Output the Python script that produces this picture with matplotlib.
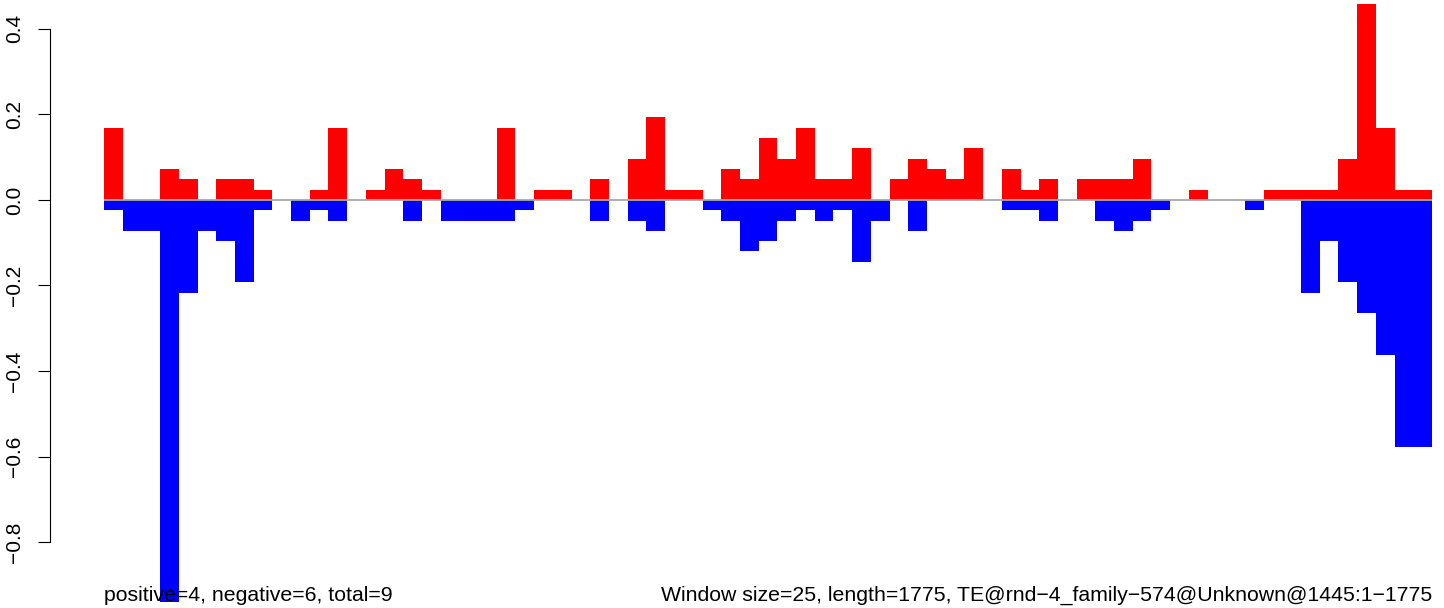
import matplotlib
matplotlib.use("Agg")
import matplotlib.pyplot as plt
import numpy as np

# counts per 25 bp window, one unit = 0.0241 on the y scale
unit = 0.0241
pos_counts = [7, 0, 0, 3, 2, 0, 2, 2, 1, 0, 0, 1, 7, 0, 1, 3, 2, 1, 0, 0,
              0, 7, 0, 1, 1, 0, 2, 0, 4, 8, 1, 1, 0, 3, 2, 6, 4, 7, 2, 2,
              5, 0, 2, 4, 3, 2, 5, 0, 3, 1, 2, 0, 2, 2, 2, 4, 0, 0, 1, 0,
              0, 0, 1, 1, 1, 1, 4, 19, 7, 1, 1]
neg_counts = [1, 3, 3, 39, 9, 3, 4, 8, 1, 0, 2, 1, 2, 0, 0, 0, 2, 0, 2, 2,
              2, 2, 1, 0, 0, 0, 2, 0, 2, 3, 0, 0, 1, 2, 5, 4, 2, 1, 2, 1,
              6, 2, 0, 3, 0, 0, 0, 0, 1, 1, 2, 0, 0, 2, 3, 2, 1, 0, 0, 0,
              0, 1, 0, 0, 9, 4, 8, 11, 15, 24, 24]
yticks = [-0.8, -0.6, -0.4, -0.2, 0.0, 0.2, 0.4]
left_note = "positive=4, negative=6, total=9"
right_note = "Window size=25, length=1775, TE@rnd\u22124_family\u2212574@Unknown@1445:1\u22121775"

plt.rcParams["font.family"] = ["Liberation Sans", "DejaVu Sans"]
plt.rcParams["axes.unicode_minus"] = True

pos = np.array(pos_counts) * unit
neg = -np.array(neg_counts) * unit
x = np.arange(len(pos))

W, H = 1444, 608
px = 72 / 100  # points per pixel
fig = plt.figure(figsize=(W / 100, H / 100), dpi=100)
ax = fig.add_axes([104 / W, (H - 602) / H, (1432 - 104) / W, (602 - 4) / H])

ax.bar(x, pos, width=1, align="edge", color="#ff0000", linewidth=0, antialiased=False)
ax.bar(x, neg, width=1, align="edge", color="#0000ff", linewidth=0, antialiased=False)
ax.axhline(0, color="#a8a8a8", lw=1.3, zorder=3)

ax.set_xlim(0, len(pos))
ax.set_ylim(neg.min(), pos.max())

for s in ["top", "right", "bottom"]:
    ax.spines[s].set_visible(False)
ax.spines["left"].set_position(("outward", 54 * px))
ax.spines["left"].set_bounds(yticks[0], yticks[-1])
ax.spines["left"].set_linewidth(0.8)
ax.set_xticks([])
ax.set_yticks(yticks)
ax.set_yticklabels([f"{t:.1f}".replace("-", "\u2212") for t in yticks])
ax.tick_params(axis="y", length=12 * px, width=0.8, pad=14 * px, labelsize=15, labelrotation=90)
for t in ax.get_yticklabels():
    t.set_va("center")

fig.text(104 / W, (H - 601) / H, left_note, fontsize=15.3, ha="left", va="baseline")
fig.text(1432 / W, (H - 601) / H, right_note, fontsize=15.3, ha="right", va="baseline")

fig.savefig("out.png", dpi=100)
